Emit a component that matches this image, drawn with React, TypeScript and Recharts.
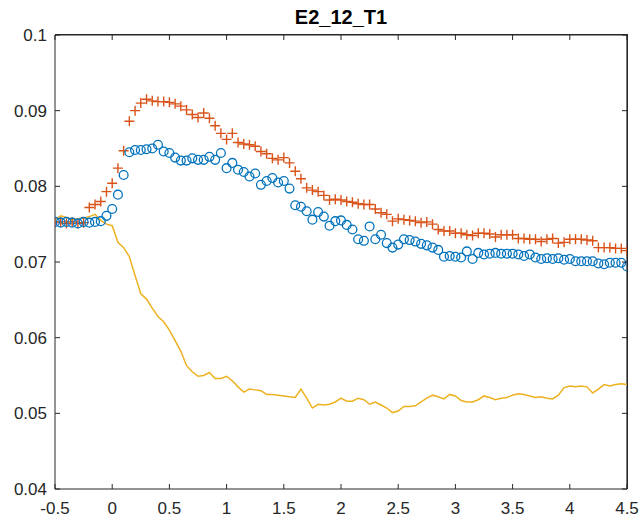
import { ComposedChart, Line, XAxis, YAxis, ReferenceLine } from 'recharts'

// sampled every 0.05 starting at -0.5
const T_START = -0.5
const T_STEP = 0.05

const blueValues = [
  0.0753, 0.0752, 0.0753, 0.0752, 0.0751, 0.0753, 0.0752, 0.0753, 0.0754, 0.0761,
  0.0770, 0.0789, 0.0815, 0.0845, 0.0848, 0.0848, 0.0849, 0.0850, 0.0855, 0.0846,
  0.0844, 0.0838, 0.0834, 0.0834, 0.0837, 0.0835, 0.0835, 0.0839, 0.0835, 0.0844,
  0.0824, 0.0831, 0.0822, 0.0819, 0.0813, 0.0817, 0.0802, 0.0807, 0.0811, 0.0805,
  0.0807, 0.0797, 0.0775, 0.0773, 0.0767, 0.0756, 0.0766, 0.0760, 0.0748, 0.0754,
  0.0755, 0.0749, 0.0743, 0.0730, 0.0728, 0.0747, 0.0730, 0.0736, 0.0725, 0.0719,
  0.0723, 0.0730, 0.0729, 0.0727, 0.0724, 0.0722, 0.0719, 0.0716, 0.0707, 0.0708,
  0.0707, 0.0706, 0.0714, 0.0704, 0.0712, 0.0710, 0.0711, 0.0712, 0.0711, 0.0711,
  0.0711, 0.0710, 0.0708, 0.0710, 0.0706, 0.0704, 0.0705, 0.0704, 0.0705, 0.0703,
  0.0704, 0.0701, 0.0701, 0.0701, 0.0701, 0.0698, 0.0697, 0.0699, 0.0699, 0.0699,
  0.0694,
]

const redValues = [
  0.0752, 0.0753, 0.0751, 0.0753, 0.0751, 0.0752, 0.0772, 0.0776, 0.0780, 0.0793,
  0.0804, 0.0824, 0.0847, 0.0886, 0.0900, 0.0910, 0.0915, 0.0913, 0.0912, 0.0912,
  0.0911, 0.0909, 0.0906, 0.0901, 0.0895, 0.0891, 0.0897, 0.0890, 0.0880, 0.0870,
  0.0862, 0.0870, 0.0858, 0.0856, 0.0855, 0.0853, 0.0846, 0.0843, 0.0837, 0.0835,
  0.0838, 0.0831, 0.0820, 0.0810, 0.0798, 0.0795, 0.0793, 0.0788, 0.0782, 0.0783,
  0.0782, 0.0780, 0.0779, 0.0777, 0.0776, 0.0776, 0.0770, 0.0765, 0.0763, 0.0754,
  0.0757, 0.0756, 0.0755, 0.0754, 0.0752, 0.0753, 0.0750, 0.0743, 0.0741, 0.0741,
  0.0738, 0.0738, 0.0736, 0.0735, 0.0738, 0.0738, 0.0737, 0.0733, 0.0736, 0.0736,
  0.0736, 0.0731, 0.0731, 0.0730, 0.0730, 0.0727, 0.0730, 0.0731, 0.0725, 0.0726,
  0.0730, 0.0730, 0.0730, 0.0729, 0.0728, 0.0719, 0.0719, 0.0719, 0.0718, 0.0718,
  0.0715,
]

const yellowValues = [
  0.0756, 0.0761, 0.0759, 0.0756, 0.0757, 0.0758, 0.0760, 0.0763, 0.0755, 0.0750,
  0.0748, 0.0726, 0.0719, 0.0707, 0.0682, 0.0658, 0.0651, 0.0639, 0.0628, 0.0621,
  0.0610, 0.0596, 0.0582, 0.0563, 0.0555, 0.0549, 0.0550, 0.0554, 0.0546, 0.0546,
  0.0549, 0.0543, 0.0535, 0.0528, 0.0532, 0.0531, 0.0530, 0.0525, 0.0525, 0.0524,
  0.0523, 0.0522, 0.0521, 0.0532, 0.0520, 0.0507, 0.0512, 0.0511, 0.0512, 0.0515,
  0.0520, 0.0516, 0.0516, 0.0520, 0.0518, 0.0512, 0.0515, 0.0511, 0.0507, 0.0501,
  0.0503, 0.0509, 0.0509, 0.0510, 0.0515, 0.0520, 0.0524, 0.0522, 0.0519, 0.0525,
  0.0523, 0.0517, 0.0515, 0.0515, 0.0518, 0.0523, 0.0521, 0.0518, 0.0520, 0.0521,
  0.0524, 0.0526, 0.0525, 0.0523, 0.0521, 0.0522, 0.0520, 0.0519, 0.0524, 0.0534,
  0.0536, 0.0535, 0.0536, 0.0535, 0.0527, 0.0532, 0.0538, 0.0536, 0.0538, 0.0539,
  0.0538,
]

const xTicks = [-0.5, 0, 0.5, 1, 1.5, 2, 2.5, 3, 3.5, 4, 4.5]
const yTicks = [0.04, 0.05, 0.06, 0.07, 0.08, 0.09, 0.1]
const X_DOMAIN = [-0.5, 4.5]
const Y_DOMAIN = [0.04, 0.1]

const data = blueValues.map((b, i) => ({
  t: Number((T_START + i * T_STEP).toFixed(2)),
  blue: b,
  red: redValues[i],
  yellow: yellowValues[i],
}))

const AXIS = '#262626'
const FONT = '"Liberation Sans", Arial, Helvetica, sans-serif'
const FONT_SIZE = 17

// axes box edges, follow from chart size, margins and axis sizes below
const CHART_W = 642
const CHART_H = 521
const PLOT_LEFT = 55
const PLOT_TOP = 35
const PLOT_RIGHT = 627
const PLOT_BOTTOM = 489
const TICK_LEN = 5

// MATLAB-like ticks: pointing inward on all four sides, labels outside
const XTick = (props: any) => {
  const { x, y, payload } = props
  return (
    <g>
      <line x1={x} x2={x} y1={PLOT_BOTTOM} y2={PLOT_BOTTOM - TICK_LEN} stroke={AXIS} strokeWidth={1} />
      <line x1={x} x2={x} y1={PLOT_TOP} y2={PLOT_TOP + TICK_LEN} stroke={AXIS} strokeWidth={1} />
      <text x={x} y={y} dy="0.71em" textAnchor="middle" fill={AXIS} fontSize={FONT_SIZE} fontFamily={FONT}>
        {payload.value}
      </text>
    </g>
  )
}

const YTick = (props: any) => {
  const { x, y, payload } = props
  return (
    <g>
      <line x1={PLOT_LEFT} x2={PLOT_LEFT + TICK_LEN} y1={y} y2={y} stroke={AXIS} strokeWidth={1} />
      <line x1={PLOT_RIGHT} x2={PLOT_RIGHT - TICK_LEN} y1={y} y2={y} stroke={AXIS} strokeWidth={1} />
      <text x={x} y={y} dy="0.355em" textAnchor="end" fill={AXIS} fontSize={FONT_SIZE} fontFamily={FONT}>
        {payload.value}
      </text>
    </g>
  )
}

const CircleDot = (props: any) => {
  const { cx, cy, index } = props
  if (cx == null || cy == null) return <g key={`c${index}`} />
  return <circle key={`c${index}`} cx={cx} cy={cy} r={4.4} fill="none" stroke="#0072BD" strokeWidth={1.3} />
}

const PlusDot = (props: any) => {
  const { cx, cy, index } = props
  if (cx == null || cy == null) return <g key={`p${index}`} />
  const s = 5
  return (
    <path
      key={`p${index}`}
      d={`M${cx - s},${cy}H${cx + s}M${cx},${cy - s}V${cy + s}`}
      stroke="#D95319"
      strokeWidth={1.4}
      fill="none"
    />
  )
}

export default function App() {
  return (
    <div style={{ position: 'absolute', left: 0, top: 0, width: CHART_W, height: CHART_H, background: '#fff' }}>
      <div
        style={{
          position: 'absolute',
          left: PLOT_LEFT,
          width: PLOT_RIGHT - PLOT_LEFT,
          top: 6,
          textAlign: 'center',
          fontFamily: FONT,
          fontWeight: 'bold',
          fontSize: 20,
          color: '#000',
        }}
      >
        E2_12_T1
      </div>
      <ComposedChart
        width={CHART_W}
        height={CHART_H}
        data={data}
        margin={{ top: PLOT_TOP, right: CHART_W - PLOT_RIGHT, bottom: 0, left: 0 }}
      >
        <XAxis
          dataKey="t"
          type="number"
          domain={X_DOMAIN}
          ticks={xTicks}
          interval={0}
          height={CHART_H - PLOT_BOTTOM}
          tickLine={false}
          tickSize={0}
          tickMargin={13}
          stroke={AXIS}
          tick={XTick}
          allowDataOverflow
        />
        <YAxis
          type="number"
          domain={Y_DOMAIN}
          ticks={yTicks}
          interval={0}
          width={PLOT_LEFT}
          tickLine={false}
          tickSize={0}
          tickMargin={8}
          stroke={AXIS}
          tick={YTick}
          allowDataOverflow
        />
        {/* top and right edges of the axes box */}
        <ReferenceLine y={Y_DOMAIN[1]} stroke={AXIS} strokeWidth={1.2} ifOverflow="visible" />
        <ReferenceLine x={X_DOMAIN[1]} stroke={AXIS} strokeWidth={1.2} ifOverflow="visible" />
        <Line
          dataKey="yellow"
          type="linear"
          stroke="#EDB120"
          strokeWidth={1.5}
          dot={false}
          activeDot={false}
          isAnimationActive={false}
        />
        <Line
          dataKey="red"
          type="linear"
          stroke="none"
          dot={PlusDot}
          activeDot={false}
          isAnimationActive={false}
        />
        <Line
          dataKey="blue"
          type="linear"
          stroke="none"
          dot={CircleDot}
          activeDot={false}
          isAnimationActive={false}
        />
      </ComposedChart>
      <div
        style={{
          position: 'absolute',
          left: PLOT_LEFT,
          top: PLOT_TOP - 1,
          width: PLOT_RIGHT - PLOT_LEFT + 1,
          height: PLOT_BOTTOM - PLOT_TOP + 1,
          boxSizing: 'border-box',
          borderTop: `1px solid ${AXIS}`,
          borderRight: `1px solid ${AXIS}`,
          pointerEvents: 'none',
        }}
      />
    </div>
  )
}
